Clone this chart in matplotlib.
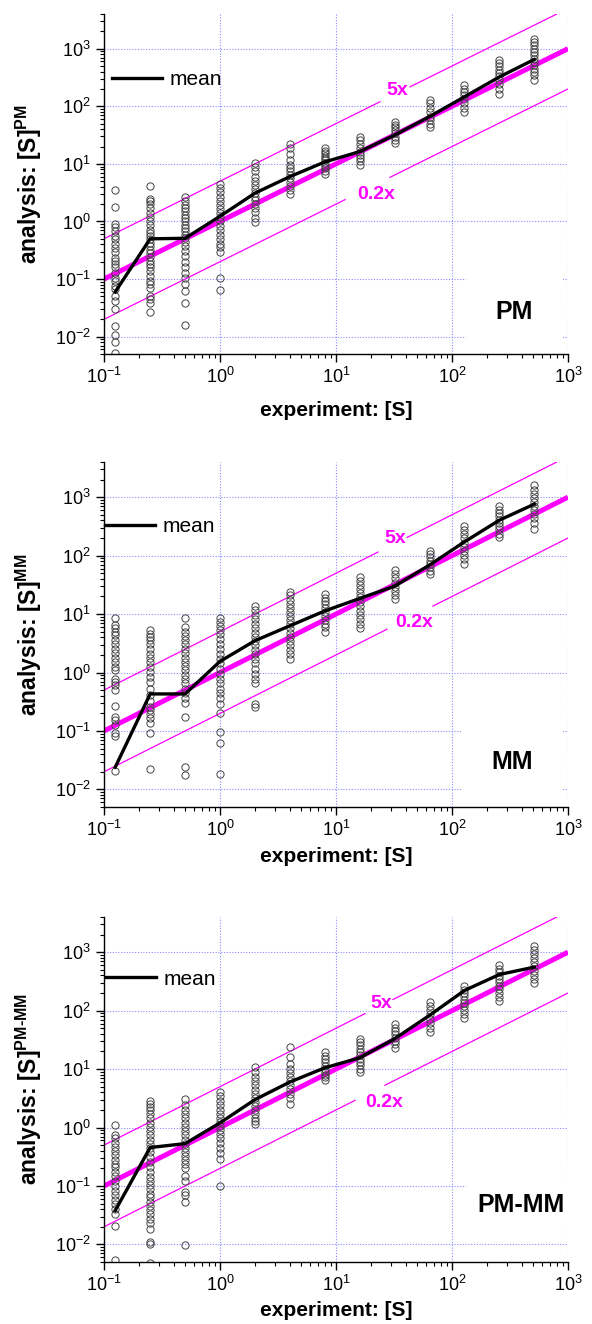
import numpy as np
import matplotlib
matplotlib.use('Agg')
import matplotlib.pyplot as plt

plt.rcParams['font.family'] = ['Liberation Sans', 'DejaVu Sans']
plt.rcParams['mathtext.fontset'] = 'custom'
plt.rcParams['mathtext.rm'] = 'Liberation Sans'
plt.rcParams['mathtext.bf'] = 'Liberation Sans:bold'
plt.rcParams['mathtext.it'] = 'Liberation Sans:italic'

# concentraciones del experimento
conc = [0.125, 0.25, 0.5, 1, 2, 4, 8, 16, 32, 64, 128, 256, 512]

# valores, una lista por concentracion
pm_points = [
    [3.5, 1.76, 0.9, 0.79, 0.68, 0.57, 0.49, 0.40, 0.35, 0.29, 0.23, 0.21, 0.18, 0.16, 0.13,
     0.105, 0.093, 0.076, 0.066, 0.051, 0.042, 0.030, 0.0155, 0.0107, 0.008, 0.0052],
    [4.05, 2.5, 2.3, 2.0, 1.7, 1.4, 1.2, 1.0, 0.88, 0.72, 0.63, 0.57, 0.49, 0.43, 0.37, 0.32,
     0.28, 0.24, 0.21, 0.18, 0.16, 0.138, 0.113, 0.093, 0.081, 0.071, 0.051, 0.045, 0.039, 0.027],
    [2.7, 2.3, 1.95, 1.7, 1.5, 1.3, 1.15, 1.0, 0.88, 0.77, 0.68, 0.59, 0.52, 0.44, 0.37, 0.31,
     0.25, 0.20, 0.16, 0.13, 0.105, 0.081, 0.061, 0.039, 0.016],
    [4.5, 3.8, 3.2, 2.7, 2.3, 1.95, 1.65, 1.4, 1.2, 1.0, 0.85, 0.72, 0.59, 0.49, 0.40, 0.36,
     0.29, 0.106, 0.065],
    [10.3, 8.7, 7.4, 6.0, 5.1, 4.3, 3.6, 3.1, 2.7, 2.4, 2.0, 1.7, 1.45, 1.15, 0.97],
    [22, 18.6, 14.9, 11.7, 9.6, 8.4, 7.4, 6.4, 5.6, 4.9, 4.2, 3.5, 3.0],
    [18.6, 17, 15.3, 13.8, 12.6, 11.5, 10.3, 9.2, 8.4, 7.4, 6.7],
    [29.7, 26, 22, 18.6, 16.3, 14.3, 12.5, 11, 9.6],
    [54, 47, 43, 38.6, 33.8, 29.7, 26, 23.3],
    [131, 112, 95, 80, 66, 57.5, 50, 43],
    [231, 203, 177, 155, 136, 115, 95, 80],
    [643, 562, 493, 432, 378, 331, 282, 241, 203, 166],
    [1480, 1297, 1136, 995, 872, 764, 669, 585, 512, 449, 393, 344, 290],
]
pm_mean = [0.06, 0.50, 0.51, 1.23, 3.1, 6.0, 10.8, 16.3, 31.6, 66, 146, 323, 650]

mm_points = [
    [8.7, 6.4, 5.7, 5.0, 4.3, 3.6, 3.05, 2.57, 2.17, 1.8, 1.52, 1.25, 1.1, 0.79, 0.69, 0.61,
     0.50, 0.27, 0.175, 0.153, 0.126, 0.094, 0.082, 0.0206],
    [5.3, 4.6, 4.07, 3.57, 3.05, 2.57, 2.11, 1.8, 1.52, 1.25, 1.03, 0.84, 0.69, 0.53, 0.41,
     0.32, 0.26, 0.227, 0.194, 0.164, 0.138, 0.094, 0.022],
    [8.7, 6.0, 5.0, 4.2, 3.57, 3.05, 2.57, 2.17, 1.8, 1.52, 1.28, 1.1, 0.9, 0.76, 0.65, 0.53,
     0.44, 0.36, 0.30, 0.17, 0.0244, 0.0176],
    [8.7, 7.3, 6.2, 5.3, 4.5, 3.8, 3.13, 2.57, 2.11, 1.73, 1.43, 1.17, 0.96, 0.79, 0.65, 0.53,
     0.44, 0.36, 0.295, 0.2, 0.097, 0.063, 0.0183],
    [13.6, 11.6, 9.6, 8.1, 6.7, 5.7, 4.8, 4.07, 3.5, 2.93, 2.47, 2.06, 1.73, 1.43, 1.17, 0.96,
     0.79, 0.65, 0.295, 0.26],
    [23.9, 21, 17.7, 15.1, 12.9, 10.9, 9.2, 7.9, 6.7, 5.7, 4.8, 4.07, 3.5, 2.93, 2.47, 2.11, 1.73],
    [21.8, 19.1, 16.8, 14.7, 12.9, 10.9, 9.2, 7.9, 6.7, 5.9, 5.0],
    [43.4, 37, 31.3, 26.4, 22.5, 19.3, 16.3, 13.7, 11.4, 9.6, 8.1, 6.7, 5.7],
    [56.5, 48.3, 40.7, 34.4, 29.3, 25, 21.1, 17.8],
    [121, 106, 93, 82, 72, 63, 55, 48],
    [319, 273, 233, 197, 166, 141, 121, 102, 86, 72],
    [701, 615, 540, 473, 415, 364, 319, 280, 239, 205],
    [1600, 1352, 1155, 987, 832, 701, 600, 512, 432, 355, 291],
]
mm_mean = [0.024, 0.43, 0.43, 1.55, 3.5, 6.3, 11.3, 18.5, 30, 69, 172, 404, 760]

pmmm_points = [
    [1.1, 0.74, 0.65, 0.55, 0.47, 0.40, 0.34, 0.28, 0.24, 0.21, 0.175, 0.147, 0.122, 0.099,
     0.083, 0.07, 0.057, 0.049, 0.041, 0.033, 0.0206, 0.0055],
    [2.86, 2.57, 2.25, 1.98, 1.73, 1.43, 1.2, 1.03, 0.88, 0.74, 0.62, 0.53, 0.455, 0.38, 0.315,
     0.26, 0.213, 0.175, 0.144, 0.122, 0.103, 0.087, 0.074, 0.064, 0.054, 0.045, 0.039, 0.033,
     0.027, 0.023, 0.018, 0.0111, 0.0101, 0.0048],
    [3.13, 2.41, 1.98, 1.69, 1.43, 1.2, 1.03, 0.88, 0.74, 0.62, 0.53, 0.455, 0.38, 0.32, 0.277,
     0.236, 0.2, 0.147, 0.122, 0.079, 0.07, 0.054, 0.0097],
    [4.07, 3.44, 2.86, 2.41, 2.03, 1.73, 1.48, 1.25, 1.05, 0.9, 0.77, 0.65, 0.55, 0.455, 0.37,
     0.295, 0.099],
    [10.9, 8.9, 7.3, 6.3, 5.3, 4.47, 3.81, 3.26, 2.75, 2.32, 1.98, 1.69, 1.48, 1.3, 1.14],
    [23.9, 16, 12.4, 10.2, 8.6, 7.3, 6.3, 5.3, 4.5, 3.8, 3.26, 2.57],
    [19.6, 17, 15, 13, 11.5, 10, 9, 8, 7.2, 6.4],
    [33, 29, 25.4, 22.3, 19.5, 17.1, 15, 13.2, 11.6, 10.1, 8.9],
    [58, 51, 44.7, 39.2, 34.4, 30.1, 26.4, 23.2],
    [140, 118, 101, 86, 72.5, 61, 51, 43],
    [259, 227, 199, 175, 153, 134, 118, 101, 86, 75],
    [592, 519, 455, 399, 350, 307, 269, 236, 199, 170, 145],
    [1300, 1096, 936, 800, 674, 569, 486, 415, 350, 295],
]
pmmm_mean = [0.038, 0.455, 0.53, 1.2, 3.0, 6.0, 10.5, 15.6, 33, 83, 221, 415, 555]

# lineas de referencia y=x, 5x, 0.2x
ref_x = [0.1, 1000]
factors = [5, 0.2]
factor_labels = ['5x', '0.2x']

magenta = '#ff00ff'
grid_color = '#8a8aff'

# composicion de cada panel (posiciones en coordenadas de datos)
panels = [
    dict(points=pm_points, mean=pm_mean, sup=r'$^{\mathbf{PM}}$', tag='PM',
         rect=[104, 14, 464, 340], leg=(0.017, 0.806), xpad=10,
         lab5=(33.6, 190), lab02=(22.1, 2.92), gap5=(23.9, 43.5), gap02=(12, 29.2),
         tagpos=(499, 0.027), tagpad=1.2),
    dict(points=mm_points, mean=mm_mean, sup=r'$^{\mathbf{MM}}$', tag='MM',
         rect=[104, 462, 464, 345], leg=(0.002, 0.812), xpad=5,
         lab5=(32.3, 198), lab02=(47, 7.24), gap5=(23.0, 40.9), gap02=(27.5, 68.5),
         tagpos=(499, 0.029), tagpad=1.2),
    dict(points=pmmm_points, mean=pmmm_mean, sup='$^{\\mathbf{PM\u2010MM}}$', tag='PM-MM',
         rect=[104, 917, 464, 345], leg=(0.004, 0.82), xpad=4,
         lab5=(24.4, 133), lab02=(25.9, 2.70), gap5=(17.8, 31.0), gap02=(14.6, 26.4),
         tagpos=(940, 0.047), tagpad=0.45),
]

W, H = 592, 1324
fig = plt.figure(figsize=(W / 100, H / 100), dpi=100)

for p in panels:
    l, t, w, h = p['rect']
    ax = fig.add_axes([l / W, 1 - (t + h) / H, w / W, h / H])
    ax.set_xscale('log')
    ax.set_yscale('log')
    ax.set_xlim(0.1, 1000)
    ax.set_ylim(5e-3, 4e3)
    ax.set_axisbelow(True)
    ax.grid(True, which='major', color=grid_color, linestyle=(0, (1, 1.5)), linewidth=0.8)
    for s in ['top', 'right']:
        ax.spines[s].set_visible(False)
    for s in ['left', 'bottom']:
        ax.spines[s].set_linewidth(1.0)

    # y = x
    ax.plot(ref_x, ref_x, color=magenta, lw=3.6, zorder=2, solid_capstyle='butt')
    # 5x y 0.2x con hueco para la etiqueta
    gaps = [p['gap5'], p['gap02']]
    labpos = [p['lab5'], p['lab02']]
    for f, g, lab, pos in zip(factors, gaps, factor_labels, labpos):
        xs = np.array([ref_x[0], g[0], np.nan, g[1], ref_x[1]])
        ax.plot(xs, f * xs, color=magenta, lw=0.9, zorder=2)
        ax.text(pos[0], pos[1], lab, color=magenta, fontsize=14, fontweight='bold',
                ha='center', va='center', zorder=3)

    # puntos
    xs_pts = []
    ys_pts = []
    for c, vals in zip(conc, p['points']):
        xs_pts += [c] * len(vals)
        ys_pts += vals
    ax.plot(xs_pts, ys_pts, 'o', ms=5.2, mfc='none', mec='#444444', mew=0.7, zorder=2.5)

    # media
    ax.plot(conc, p['mean'], color='black', lw=2.4, zorder=4, label='mean')

    ax.legend(loc='center left', bbox_to_anchor=p['leg'], frameon=False, fontsize=15,
              borderpad=0, borderaxespad=0, handlelength=2.4, handletextpad=0.35)

    ax.text(p['tagpos'][0], p['tagpos'][1], p['tag'], fontsize=18, fontweight='bold',
            ha='right', va='center', zorder=1.5,
            bbox=dict(boxstyle='square,pad=%s' % p['tagpad'], fc='white', ec='none'))

    ax.tick_params(which='major', direction='out', length=6, width=1, labelsize=13)
    ax.tick_params(which='minor', direction='out', length=3, width=0.8)
    ax.set_xlabel('experiment: [S]', fontsize=15, fontweight='bold', labelpad=p['xpad'])
    ax.set_ylabel('analysis: [S]' + p['sup'], fontsize=16.5, fontweight='bold', labelpad=8)

fig.savefig('out.png', dpi=100)
